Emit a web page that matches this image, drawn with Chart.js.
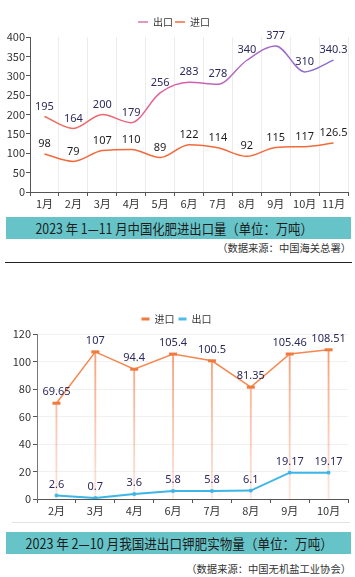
<!DOCTYPE html>
<html><head><meta charset="utf-8">
<script src="https://cdn.jsdelivr.net/npm/chart.js@4.4.1/dist/chart.umd.min.js"></script>
<style>
html,body{margin:0;padding:0;background:#fff;}
body{width:355px;height:577px;position:relative;overflow:hidden;font-family:"Noto Sans CJK SC","Noto Sans",sans-serif;}
.box{position:absolute;left:0;width:355px;}
.title{position:absolute;left:6px;width:345px;height:22px;background:#66c4c9;color:#1c1c1c;font-size:14px;line-height:22px;text-align:center;white-space:nowrap;overflow:hidden;}
.title span{display:inline-block;transform-origin:50% 50%;position:relative;}
.src{position:absolute;right:4px;font-size:10.3px;line-height:12px;color:#333;white-space:nowrap;}
.rule{position:absolute;}
</style></head>
<body>
<div class="box" style="top:0;height:212px;"><canvas id="c1"></canvas></div>
<div class="title" style="top:217px;"><span data-w="277" style="left:-4px;">2023 年 1—11 月中国化肥进出口量（单位：万吨）</span></div>
<div class="src" style="top:242px;">（数据来源：中国海关总署）</div>
<div class="rule" style="top:262px;left:5px;width:347px;height:1px;background:#222;"></div>
<div class="box" style="top:280px;height:240px;"><canvas id="c2"></canvas></div>
<div class="rule" style="top:522px;left:12px;width:338px;height:1px;background:#e2e2e2;"></div>
<div class="title" style="top:532px;"><span data-w="307" style="left:1px;">2023 年 2—10 月我国进出口钾肥实物量（单位：万吨）</span></div>
<div class="src" style="top:563px;">（数据来源：中国无机盐工业协会）</div>
<script>
// ---- Chart 1 data ----
const months1 = ['1月','2月','3月','4月','5月','6月','7月','8月','9月','10月','11月'];
const export1 = [195,164,200,179,256,283,278,340,377,310,340.3];
const import1 = [98,79,107,110,89,122,114,92,115,117,126.5];
const seriesNames1 = ['出口','进口'];
// ---- Chart 2 data ----
const months2 = ['2月','3月','4月','6月','7月','8月','9月','10月'];
const import2 = [69.65,107,94.4,105.4,100.5,81.35,105.46,108.51];
const export2 = [2.6,0.7,3.6,5.8,5.8,6.1,19.17,19.17];
const seriesNames2 = ['进口','出口'];

document.querySelectorAll('.title span').forEach(s => {
  const w = +s.dataset.w;
  s.style.transform = 'scaleX(' + (w / s.offsetWidth) + ')';
});

Chart.defaults.font.family = '"Noto Sans CJK SC","Noto Sans",sans-serif';
Chart.defaults.color = '#333';

const valueLabels = {
  id: 'valueLabels',
  afterDatasetsDraw(chart, args, opts) {
    const ctx = chart.ctx;
    ctx.save();
    ctx.font = (opts.size || 11) + 'px "Noto Sans","Noto Sans CJK SC",sans-serif';
    ctx.textAlign = 'center';
    ctx.textBaseline = 'middle';
    chart.data.datasets.forEach((ds, i) => {
      const col = opts.colors[i];
      if (!col) return;
      const meta = chart.getDatasetMeta(i);
      ctx.fillStyle = col;
      meta.data.forEach((el, j) => {
        ctx.fillText(String(ds.data[j]), el.x, el.y - (opts.offset || 10));
      });
    });
    ctx.restore();
  }
};

function legendLabels(chart) {
  const items = Chart.defaults.plugins.legend.labels.generateLabels(chart);
  items.forEach(it => {
    const ds = chart.data.datasets[it.datasetIndex];
    it.fillStyle = ds.legendColor;
    it.strokeStyle = ds.legendColor;
    it.lineWidth = 0;
  });
  return items.filter(it => !chart.data.datasets[it.datasetIndex].hideInLegend);
}

function upperGradient(ctx) {
  const ca = ctx.chart.chartArea;
  if (!ca) return '#c066b8';
  const g = ctx.chart.ctx.createLinearGradient(ca.left, 0, ca.right, 0);
  g.addColorStop(0, '#f06e55');
  g.addColorStop(0.3, '#ea6478');
  g.addColorStop(0.45, '#dc5ea8');
  g.addColorStop(0.65, '#b068c4');
  g.addColorStop(1, '#806fd6');
  return g;
}

new Chart(document.getElementById('c1'), {
  type: 'line',
  data: {
    labels: months1,
    datasets: [
      { label: seriesNames1[0], data: export1, borderColor: upperGradient, legendColor: '#d678ac',
        borderWidth: 1.5, pointRadius: 0, cubicInterpolationMode: 'monotone', fill: false },
      { label: seriesNames1[1], data: import1, borderColor: '#f26a3c', legendColor: '#f26a3c',
        borderWidth: 1.5, pointRadius: 0, cubicInterpolationMode: 'monotone', fill: false }
    ]
  },
  options: {
    responsive: true, maintainAspectRatio: false, animation: false,
    layout: { padding: { top: 15, right: 7, left: 0, bottom: 0 } },
    plugins: {
      legend: { position: 'top', labels: { font: { size: 10 }, boxWidth: 10, boxHeight: 1.5, padding: 2, color: '#333', generateLabels: legendLabels } },
      tooltip: { enabled: false },
      valueLabels: { colors: ['#2c2a5c', '#1e1e1e'], offset: 10, size: 11 }
    },
    scales: {
      x: {
        offset: true,
        grid: { offset: true, color: '#ececec', tickColor: '#555', tickLength: 4, drawOnChartArea: true },
        border: { color: '#555' },
        ticks: { font: { size: 11 }, color: '#333', padding: 1, maxRotation: 0, autoSkip: false },
        afterFit(s) { s.height = 20; }
      },
      y: {
        min: 0, max: 400,
        grid: { drawOnChartArea: false, tickColor: '#555', tickLength: 4 },
        border: { color: '#555' },
        ticks: { stepSize: 50, font: { size: 11 }, color: '#333', padding: 1 },
        afterFit(s) { s.width = 30; }
      }
    }
  },
  plugins: [valueLabels]
});

function dropGradient(ctx) {
  const ca = ctx.chart.chartArea;
  if (!ca) return 'rgba(245,150,110,0.6)';
  const g = ctx.chart.ctx.createLinearGradient(0, ca.top, 0, ca.bottom);
  g.addColorStop(0, 'rgba(244,130,80,0.85)');
  g.addColorStop(1, 'rgba(248,170,140,0.3)');
  return g;
}

new Chart(document.getElementById('c2'), {
  type: 'line',
  data: {
    labels: months2,
    datasets: [
      { label: seriesNames2[0], data: import2, borderColor: '#f5874f', backgroundColor: '#f07a3e', legendColor: '#f07a3e',
        borderWidth: 1.5, pointStyle: 'line', pointRadius: 4, pointBorderWidth: 3, pointBorderColor: '#f07a3e', tension: 0, order: 1 },
      { label: seriesNames2[1], data: export2, borderColor: '#3cb6e6', backgroundColor: '#3cb6e6', legendColor: '#4cbcea',
        borderWidth: 2, pointStyle: 'rect', pointRadius: 1.8, pointBorderWidth: 1, tension: 0, order: 1 },
      { type: 'bar', label: 'drop', data: import2, hideInLegend: true, backgroundColor: dropGradient,
        barThickness: 1.2, order: 3 }
    ]
  },
  options: {
    responsive: true, maintainAspectRatio: false, animation: false,
    layout: { padding: { top: 30, right: 2, left: 0, bottom: 0 } },
    plugins: {
      legend: { position: 'top', labels: { font: { size: 10 }, boxWidth: 8, boxHeight: 3, padding: 4, color: '#333', generateLabels: legendLabels } },
      tooltip: { enabled: false },
      valueLabels: { colors: ['#2c2a5c', '#2c2a5c', null], offset: 11, size: 11 }
    },
    scales: {
      x: {
        offset: true,
        grid: { offset: true, drawOnChartArea: false, tickColor: '#555', tickLength: 4 },
        border: { color: '#555' },
        ticks: { font: { size: 11 }, color: '#333', padding: 1, maxRotation: 0, autoSkip: false },
        afterFit(s) { s.height = 21; }
      },
      y: {
        min: 0, max: 120,
        grid: { drawOnChartArea: true, color: '#f0f0f0', tickColor: '#555', tickLength: 4 },
        border: { color: '#777' },
        ticks: { stepSize: 20, font: { size: 11 }, color: '#333', padding: 2 },
        afterFit(s) { s.width = 37; }
      }
    }
  },
  plugins: [valueLabels]
});
</script>
</body></html>
